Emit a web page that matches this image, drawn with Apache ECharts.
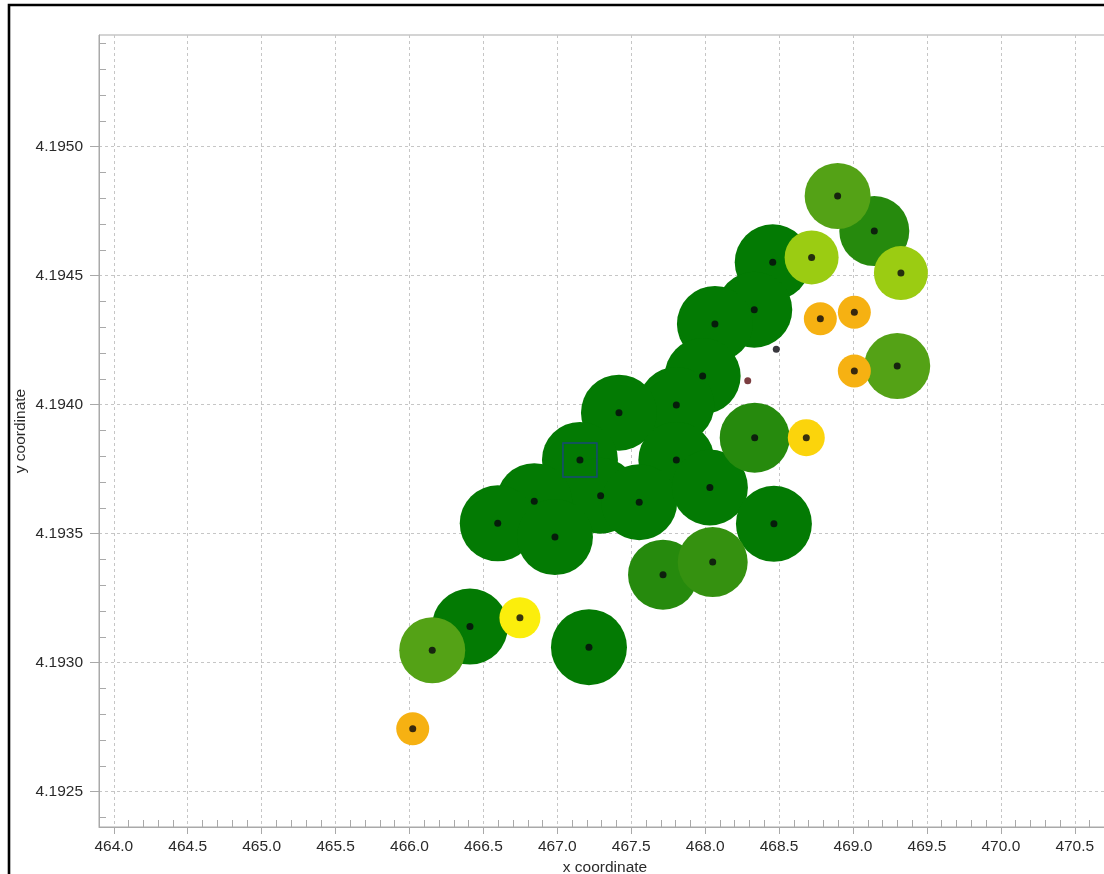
<!DOCTYPE html>
<html>
<head>
<meta charset="utf-8">
<title>Site coordinates</title>
<script src="https://cdn.jsdelivr.net/npm/echarts@6/dist/echarts.min.js"></script>
<style>
  html, body { margin: 0; padding: 0; background: #ffffff; overflow: hidden; }
  #chart { width: 1104px; height: 874px; }
</style>
</head>
<body>
<div id="chart"></div>
<script>
// Easting / northing of every site (x in the same units as the axis, y likewise)
const xCoord = [
  468.896, 469.144, 469.324, 468.720, 468.457, 468.779, 469.009, 469.009, 469.299,
  468.332, 468.066, 468.481, 468.288, 467.983, 467.805, 467.417, 468.335, 468.684,
  467.153, 467.805, 467.293, 467.554, 468.032, 466.844, 466.597, 466.984, 468.465,
  467.715, 468.051, 466.747, 466.409, 466.154, 467.214, 466.022
];
const yCoord = [
  4.194809, 4.194673, 4.194510, 4.194571, 4.194552, 4.194333, 4.194358, 4.194131, 4.194150,
  4.194368, 4.194313, 4.194215, 4.194093, 4.194111, 4.193999, 4.193969, 4.193872, 4.193872,
  4.193786, 4.193786, 4.193647, 4.193622, 4.193679, 4.193626, 4.193540, 4.193487, 4.193538,
  4.193341, 4.193390, 4.193174, 4.193140, 4.193048, 4.193060, 4.192744
];
// Rating class of each site (0 = highest ... 7 = lowest, 8/9 = centre marker only)
const siteClass = [
  3, 1, 4, 4, 0, 7, 7, 7, 3,
  0, 0, 8, 9, 0, 0, 0, 1, 6,
  0, 0, 0, 0, 0, 0, 0, 0, 0,
  1, 2, 5, 0, 3, 0, 7
];
// Site highlighted with a frame
const selectedSite = 18;

// Visible axis window
const xRange = [463.9, 470.745];
const yRange = [4.192363, 4.195433];

// Appearance of each rating class
const classStyle = [
  { color: '#037a03', size: 76 },
  { color: '#268a0d', size: 70 },
  { color: '#359110', size: 70 },
  { color: '#54a216', size: 66 },
  { color: '#9bcc12', size: 54 },
  { color: '#fbee0c', size: 41 },
  { color: '#fbd40c', size: 37 },
  { color: '#f6b112', size: 33 }
];
const centreColor = ['#08060e', '#08060e', '#08060e', '#08060e', '#08060e', '#08060e', '#08060e', '#08060e', '#08060e', '#5a0c10'];

const FONT = "'Liberation Sans', Arial, sans-serif";
const AXIS_GREY = '#a9a9a9';
const GRID_GREY = '#c6c6c6';
const TEXT = { fontFamily: FONT, fontSize: 15.5, color: '#2a2a2a' };
const GRID_RECT = { left: 99, top: 35, width: 1012, height: 792, outerBoundsMode: 'none', containLabel: false };

const points = xCoord.map((x, i) => ({ x: x, y: yCoord[i], c: siteClass[i] }));

const circleSeries = classStyle.map((st, c) => ({
  type: 'scatter',
  xAxisIndex: 0,
  yAxisIndex: 0,
  symbol: 'circle',
  symbolSize: st.size,
  silent: true,
  itemStyle: { color: st.color, opacity: 1 },
  emphasis: { disabled: true },
  z: 2,
  data: points.filter(p => p.c === c).map(p => [p.x, p.y])
}));

const centreSeries = {
  type: 'scatter',
  xAxisIndex: 0,
  yAxisIndex: 0,
  symbol: 'circle',
  symbolSize: 7,
  silent: true,
  emphasis: { disabled: true },
  z: 3,
  data: points.map(p => ({ value: [p.x, p.y], itemStyle: { color: centreColor[p.c] } }))
};

const frameSeries = {
  type: 'scatter',
  xAxisIndex: 0,
  yAxisIndex: 0,
  symbol: 'rect',
  symbolSize: 34,
  silent: true,
  emphasis: { disabled: true },
  z: 4,
  itemStyle: { color: 'rgba(0,0,0,0)', borderColor: '#1d3c93', borderWidth: 1.5 },
  data: [[xCoord[selectedSite], yCoord[selectedSite]]]
};

// Main axes: line, outward major ticks, labels, dashed grid
function mainAxis(dim) {
  const isX = dim === 'x';
  return {
    type: 'value',
    gridIndex: 0,
    position: isX ? 'bottom' : 'left',
    min: isX ? xRange[0] : yRange[0],
    max: isX ? xRange[1] : yRange[1],
    splitNumber: isX ? 14 : 6,
    name: isX ? 'x coordinate' : 'y coordinate',
    nameLocation: 'middle',
    nameGap: isX ? 33 : 70,
    nameMoveOverlap: false,
    nameTextStyle: TEXT,
    axisLine: { show: true, onZero: false, lineStyle: { color: AXIS_GREY, width: 1 } },
    axisTick: { show: true, inside: false, length: isX ? 7 : 9, lineStyle: { color: AXIS_GREY, width: 1 } },
    minorTick: { show: false },
    axisLabel: Object.assign({
      show: true,
      margin: isX ? 12 : 16,
      showMinLabel: false,
      showMaxLabel: false,
      formatter: v => isX ? v.toFixed(1) : v.toFixed(4)
    }, TEXT),
    splitLine: {
      show: true, showMinLine: false, showMaxLine: false,
      lineStyle: { color: GRID_GREY, width: 1, type: [3, 3] }
    }
  };
}

// Companion axes on an identical grid carrying only the inward minor ticks
function minorAxis(dim) {
  const isX = dim === 'x';
  return {
    type: 'value',
    gridIndex: 1,
    position: isX ? 'bottom' : 'left',
    min: isX ? xRange[0] : yRange[0],
    max: isX ? xRange[1] : yRange[1],
    splitNumber: isX ? 14 : 6,
    axisLine: { show: false, onZero: false },
    axisTick: { show: false, inside: true },
    axisLabel: { show: false },
    splitLine: { show: false },
    minorTick: { show: true, splitNumber: 5, length: 7, lineStyle: { color: AXIS_GREY, width: 1 } }
  };
}

const chart = echarts.init(document.getElementById('chart'), null, { renderer: 'canvas' });
chart.setOption({
  animation: false,
  backgroundColor: '#ffffff',
  graphic: [{
    type: 'rect',
    silent: true,
    z: 100,
    shape: { x: 9, y: 5, width: 1300, height: 1100 },
    style: { fill: null, stroke: '#000000', lineWidth: 2.6 }
  }],
  grid: [
    Object.assign({ show: true, borderColor: AXIS_GREY, borderWidth: 1, backgroundColor: 'rgba(0,0,0,0)' }, GRID_RECT),
    Object.assign({ show: false }, GRID_RECT)
  ],
  xAxis: [mainAxis('x'), minorAxis('x')],
  yAxis: [mainAxis('y'), minorAxis('y')],
  series: circleSeries.concat([centreSeries, frameSeries])
});
</script>
</body>
</html>
